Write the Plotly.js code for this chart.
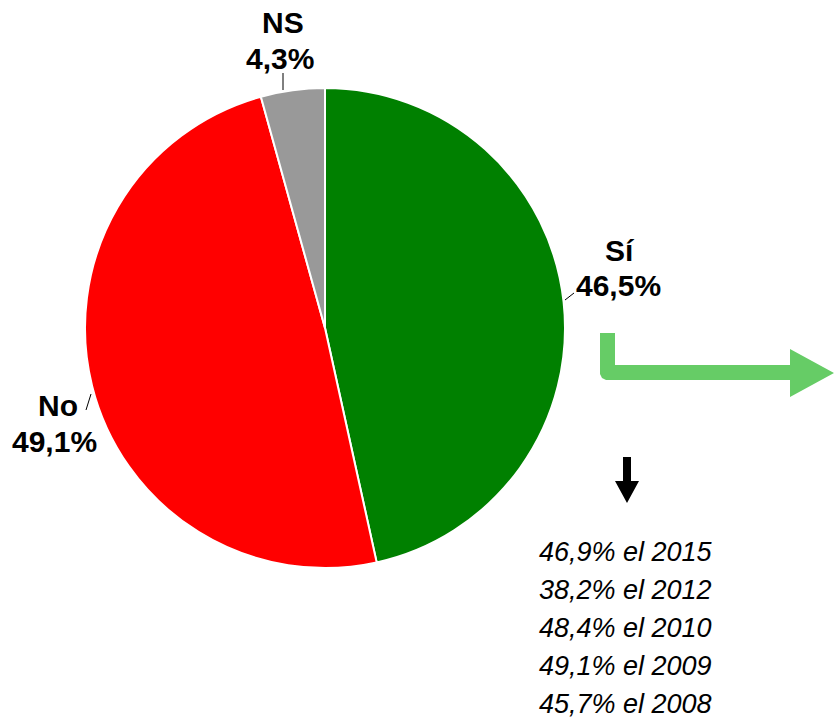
<!DOCTYPE html>
<html>
<head>
<meta charset="utf-8">
<script src="https://cdn.plot.ly/plotly-3.0.1.min.js"></script>
<style>html,body{margin:0;padding:0;background:#fff;}#chart{width:834px;height:720px;}</style>
</head>
<body>
<div id="chart"></div>
<script>
const categories = ["Sí", "No", "NS"];
const values = [46.5, 49.1, 4.3];
const colors = ["#008000", "#ff0000", "#999999"];
const historyValues = [46.9, 38.2, 48.4, 49.1, 45.7];
const historyYears = ["2015", "2012", "2010", "2009", "2008"];

const W = 834, H = 720;
const px = x => x / W;
const py = y => 1 - y / H;
const fmt = v => v.toFixed(1).replace('.', ',') + '%';
const FONT = "Liberation Sans, Arial, sans-serif";

const cx = 325, cy = 328, r = 240;

const trace = {
  type: 'pie',
  labels: categories,
  values: values,
  sort: false,
  direction: 'clockwise',
  rotation: 0,
  marker: {colors: colors, line: {color: '#ffffff', width: 2}},
  textinfo: 'none',
  hoverinfo: 'label+percent',
  showlegend: false,
  domain: {x: [px(cx - r), px(cx + r)], y: [py(cy + r), py(cy - r)]}
};

// label positions (pixels): [name x, name y, value x, value y]
const labelPos = [[620, 250, 618, 286], [58, 405, 54, 441], [283, 22, 280, 58]];
const annotations = [];
categories.forEach((c, i) => {
  const p = labelPos[i];
  annotations.push({
    xref: 'paper', yref: 'paper', x: px(p[0]), y: py(p[1]),
    xanchor: 'center', yanchor: 'middle', showarrow: false,
    text: '<b>' + c + '</b>',
    font: {family: FONT, size: 30, color: '#000'}
  });
  annotations.push({
    xref: 'paper', yref: 'paper', x: px(p[2]), y: py(p[3]),
    xanchor: 'center', yanchor: 'middle', showarrow: false,
    text: '<b>' + fmt(values[i]) + '</b>',
    font: {family: FONT, size: 30, color: '#000'}
  });
});
historyValues.forEach((v, i) => {
  annotations.push({
    xref: 'paper', yref: 'paper', x: px(537), y: py(552 + i * 38),
    xanchor: 'left', yanchor: 'middle', showarrow: false,
    text: '<i>' + fmt(v) + ' el ' + historyYears[i] + '</i>',
    font: {family: FONT, size: 27, color: '#000'}
  });
});

function pathOf(pts) {
  return 'M' + pts.map(p => px(p[0]) + ',' + py(p[1])).join(' L') + ' Z';
}

const shapes = [
  // leader lines
  {type: 'line', xref: 'paper', yref: 'paper', x0: px(283), y0: py(73), x1: px(283), y1: py(90), line: {color: '#000', width: 1}},
  {type: 'line', xref: 'paper', yref: 'paper', x0: px(565), y0: py(300), x1: px(574), y1: py(293), line: {color: '#000', width: 1}},
  {type: 'line', xref: 'paper', yref: 'paper', x0: px(86), y0: py(410), x1: px(91), y1: py(394), line: {color: '#000', width: 1}},
  // green L arrow
  {type: 'path', xref: 'paper', yref: 'paper', fillcolor: '#66cc66', line: {width: 0},
   path: pathOf([[600,333],[615,333],[615,365],[790,365],[790,349],[834,373],[790,397],[790,380],[606,380],[602,378],[600,374]])},
  // black down arrow
  {type: 'path', xref: 'paper', yref: 'paper', fillcolor: '#000000', line: {width: 0},
   path: pathOf([[623,457],[631,457],[631,481],[639,481],[627,503],[615,481],[623,481]])}
];

const layout = {
  width: W, height: H,
  margin: {l: 0, r: 0, t: 0, b: 0},
  paper_bgcolor: '#ffffff',
  plot_bgcolor: '#ffffff',
  annotations: annotations,
  shapes: shapes,
  showlegend: false
};

Plotly.newPlot('chart', [trace], layout, {displayModeBar: false, staticPlot: true});
</script>
</body>
</html>
